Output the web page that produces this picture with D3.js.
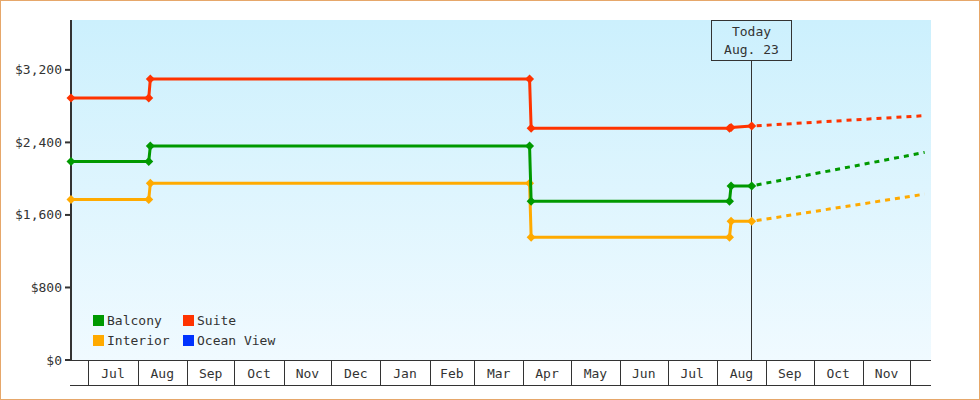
<!DOCTYPE html>
<html>
<head>
<meta charset="utf-8">
<script src="https://cdn.jsdelivr.net/npm/d3@7"></script>
<style>
	body { margin: 0; background: #fff; }
	svg text { font-family: "DejaVu Sans Mono", monospace; font-size: 13px; fill: #333; }
</style>
</head>
<body>
<svg id="chart" width="980" height="400"></svg>
<script>
"use strict";

// Data

var seriesNames = ["Interior", "Balcony", "Suite"];
var seriesColors = { Balcony: "#009900", Suite: "#ff3300", Interior: "#ffaa00", "Ocean View": "#0033ff" };
var legendNames = ["Balcony", "Suite", "Interior", "Ocean View"];

var priceDates = ["2018-06-20", "2018-08-08", "2018-08-09", "2019-04-05", "2019-04-06", "2019-08-09", "2019-08-10", "2019-08-23"];
var interiorPrices = [1770, 1770, 1950, 1950, 1355, 1355, 1530, 1530];
var balconyPrices = [2190, 2190, 2360, 2360, 1750, 1750, 1920, 1920];
var suitePrices = [2890, 2890, 3100, 3100, 2555, 2555, 2565, 2580];

var forecastDates = ["2019-08-23", "2019-12-10"];
var interiorForecast = [1530, 1830];
var balconyForecast = [1920, 2290];
var suiteForecast = [2580, 2695];

var yTicks = [0, 800, 1600, 2400, 3200];
var todayDate = "2019-08-23";
var todayLabel = ["Today", "Aug. 23"];

// Setup

var parseDate = d3.timeParse("%Y-%m-%d");
var svg = d3.select("#chart");

var x = d3.scaleTime()
	.domain([parseDate("2018-06-20"), parseDate("2019-12-14")])
	.range([71, 931]);

var y = d3.scaleLinear()
	.domain([0, 3750])
	.range([360, 20]);

function toPoints(dates, values) {
	return dates.map(function(d, i) {
		return { date: parseDate(d), price: values[i] };
	});
}

var series = {
	Interior: { actual: toPoints(priceDates, interiorPrices), forecast: toPoints(forecastDates, interiorForecast) },
	Balcony: { actual: toPoints(priceDates, balconyPrices), forecast: toPoints(forecastDates, balconyForecast) },
	Suite: { actual: toPoints(priceDates, suitePrices), forecast: toPoints(forecastDates, suiteForecast) }
};

// Outer border
svg.append("rect")
	.attr("x", 0.5)
	.attr("y", 0.5)
	.attr("width", 979)
	.attr("height", 399)
	.style("fill", "#fff")
	.style("stroke", "#e6a76a");

// Plot background gradient
var grad = svg.append("defs")
	.append("linearGradient")
	.attr("id", "bg")
	.attr("x1", 0).attr("y1", 0)
	.attr("x2", 0).attr("y2", 1);
grad.append("stop").attr("offset", "0%").attr("stop-color", "#ccf0fd");
grad.append("stop").attr("offset", "100%").attr("stop-color", "#f0faff");

svg.append("rect")
	.attr("x", x.range()[0])
	.attr("y", y.range()[1])
	.attr("width", x.range()[1] - x.range()[0])
	.attr("height", y.range()[0] - y.range()[1])
	.style("fill", "url(#bg)");

// X axis: month bands
var months = d3.timeMonth.range(d3.timeMonth.ceil(x.domain()[0]), x.domain()[1]);

svg.append("line")
	.attr("x1", 70).attr("x2", 931)
	.attr("y1", 360.5).attr("y2", 360.5)
	.style("stroke", "#333");
svg.append("line")
	.attr("x1", 70).attr("x2", 931)
	.attr("y1", 385.5).attr("y2", 385.5)
	.style("stroke", "#333");

svg.append("g")
	.selectAll("line")
	.data(months)
	.enter()
	.append("line")
	.attr("x1", function(d) { return Math.round(x(d)) + 0.5; })
	.attr("x2", function(d) { return Math.round(x(d)) + 0.5; })
	.attr("y1", 360)
	.attr("y2", 385)
	.style("stroke", "#333");

// labels only for full months
svg.append("g")
	.selectAll("text")
	.data(months.filter(function(d) { return d3.timeMonth.offset(d, 1) <= x.domain()[1]; }))
	.enter()
	.append("text")
	.attr("x", function(d) { return (x(d) + x(d3.timeMonth.offset(d, 1))) / 2; })
	.attr("y", 378)
	.attr("text-anchor", "middle")
	.text(d3.timeFormat("%b"));

// Y axis
svg.append("line")
	.attr("x1", 71).attr("x2", 71)
	.attr("y1", 20).attr("y2", 361)
	.style("stroke", "#333")
	.style("stroke-width", 2);

var yAxis = svg.append("g");
yAxis.selectAll("line")
	.data(yTicks)
	.enter()
	.append("line")
	.attr("x1", 65).attr("x2", 71)
	.attr("y1", function(d) { return y(d); })
	.attr("y2", function(d) { return y(d); })
	.style("stroke", "#333")
	.style("stroke-width", 2);
yAxis.selectAll("text")
	.data(yTicks)
	.enter()
	.append("text")
	.attr("x", 62)
	.attr("y", function(d) { return y(d) + 4.5; })
	.attr("text-anchor", "end")
	.text(function(d) { return "$" + d3.format(",")(d); });

// Today marker
var tx = Math.round(x(parseDate(todayDate))) - 0.5;
svg.append("line")
	.attr("x1", tx).attr("x2", tx)
	.attr("y1", 60).attr("y2", 360)
	.style("stroke", "#333");
svg.append("rect")
	.attr("x", tx - 40)
	.attr("y", 20.5)
	.attr("width", 80)
	.attr("height", 40)
	.style("fill", "none")
	.style("stroke", "#333");
svg.selectAll(".today")
	.data(todayLabel)
	.enter()
	.append("text")
	.attr("class", "today")
	.attr("x", tx)
	.attr("y", function(d, i) { return 36 + i * 18; })
	.attr("text-anchor", "middle")
	.text(function(d) { return d; });

// Price lines
var line = d3.line()
	.x(function(d) { return x(d.date); })
	.y(function(d) { return y(d.price); });

var diamond = "M0,-4.5L4.5,0L0,4.5L-4.5,0Z";

seriesNames.forEach(function(name) {
	var color = seriesColors[name];
	var g = svg.append("g");

	g.append("path")
		.datum(series[name].forecast)
		.attr("d", line)
		.style("fill", "none")
		.style("stroke", color)
		.style("stroke-width", 3)
		.style("stroke-dasharray", "5,5")
		.style("stroke-dashoffset", -5);

	g.append("path")
		.datum(series[name].actual)
		.attr("d", line)
		.style("fill", "none")
		.style("stroke", color)
		.style("stroke-width", 3);

	g.selectAll(".dot")
		.data(series[name].actual)
		.enter()
		.append("path")
		.attr("class", "dot")
		.attr("d", diamond)
		.attr("transform", function(d) { return "translate(" + x(d.date) + "," + y(d.price) + ")"; })
		.style("fill", color);
});

// Legend
var legend = svg.append("g")
	.selectAll("g")
	.data(legendNames)
	.enter()
	.append("g")
	.attr("transform", function(d, i) {
		return "translate(" + (93 + (i % 2) * 90) + "," + (315 + Math.floor(i / 2) * 20) + ")";
	});
legend.append("rect")
	.attr("width", 11)
	.attr("height", 11)
	.style("fill", function(d) { return seriesColors[d]; });
legend.append("text")
	.attr("x", 14)
	.attr("y", 10)
	.text(function(d) { return d; });
</script>
</body>
</html>
